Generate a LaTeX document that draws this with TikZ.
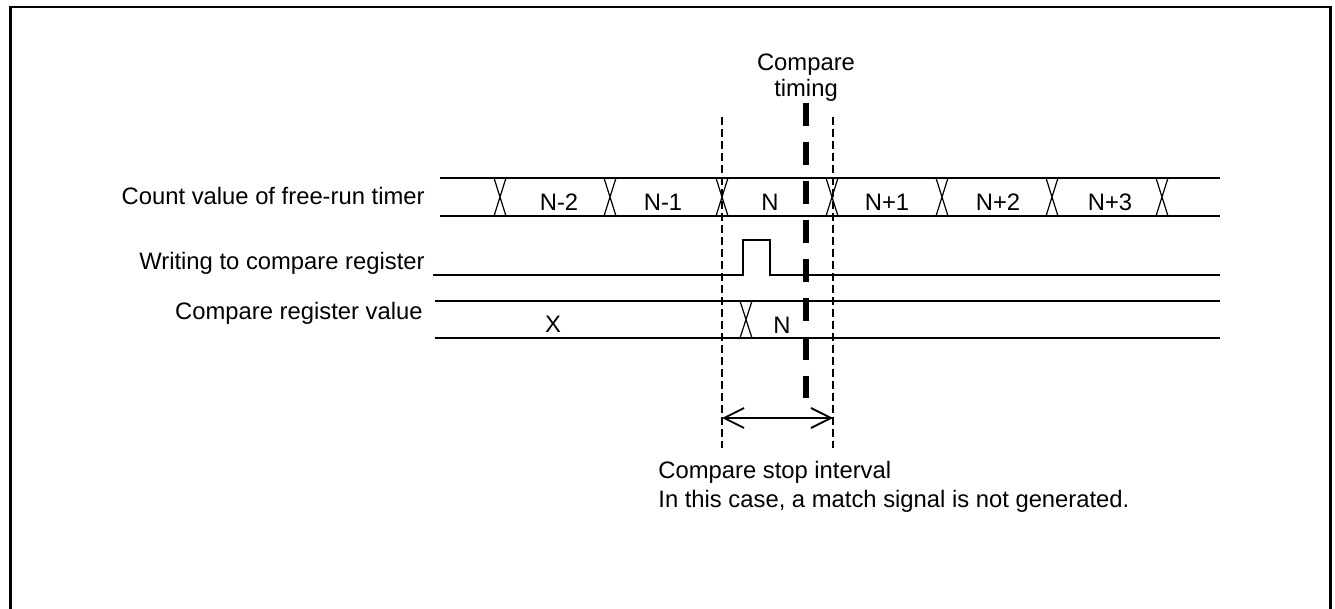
\documentclass[tikz,border=0pt]{standalone}
\usepackage{fontspec}
\setmainfont{Liberation Sans}
\usetikzlibrary{arrows.meta, positioning, calc}

\begin{document}
\begin{tikzpicture}[
    x=0.5pt, y=-0.5pt,
    font=\fontsize{11.9}{14}\selectfont,
    sig/.style={line width=1pt},
    cross/.style={line width=0.6pt},
    guide/.style={line width=0.8pt, dash pattern=on 4pt off 2pt},
    timing/.style={line width=3pt, dash pattern=on 11.5pt off 8pt},
    lbl/.style={inner sep=0pt, anchor=base east},
    val/.style={inner sep=0pt, anchor=base},
    span/.style={line width=0.9pt, {Straight Barb[length=10pt,width=10pt]}-{Straight Barb[length=10pt,width=10pt]}},
]
\useasboundingbox (0,0) rectangle (1335,609);

% frame, open at the bottom
\draw[line width=1.3pt] (10.5,615) -- (10.5,7) -- (1330.5,7) -- (1330.5,615);

% row labels
\node[lbl] (cnt) at (425,205) {Count value of free-run timer};
\node[lbl] (wr)  at (425,270) {Writing to compare register};
\node[lbl] (reg) at (423,320) {Compare register value};

% free-run timer bus
\draw[sig] (440,178) -- (1220,178) (440,216) -- (1220,216);
\foreach \x in {500,610,722,832,942,1052,1162}
    \draw[cross] (\x-6,178) -- (\x+6,216) (\x+6,178) -- (\x-6,216);
\foreach \x/\t [count=\i] in {559/N-2, 663/N-1, 770/N, 887/N+1, 998/N+2, 1110/N+3}
    \node[val] (v\i) at (\x,211) {\t};

% write pulse
\draw[sig] (433,275) -- (743,275) -- (743,240) -- (770,240) -- (770,275) -- (1220,275);

% compare register bus
\draw[sig] (435,301) -- (1220,301) (435,338) -- (1220,338);
\draw[cross] (740,301) -- (752,338) (752,301) -- (740,338);
\node[val] (rx) at (553,333) {X};
\node[val] (rn) at (782,334) {N};

% compare stop interval
\coordinate (ws) at (722,117);
\coordinate (we) at (833,117);
\draw[guide] (ws) -- (722,448);
\draw[guide] (we) -- (833,448);
\coordinate (wsa) at (722,418);
\coordinate (wea) at (833,418);
\draw[span] (wsa) -- (wea);

% compare timing
\node[inner sep=0pt, align=center, anchor=base, font=\fontsize{11.9}{13}\selectfont] (ct) at (806,97) {Compare\\timing};
\draw[timing] (806,103) -- (806,398);

\node[inner sep=0pt, align=left, anchor=base west, font=\fontsize{11.9}{14.5}\selectfont] (note) at (658,508)
    {Compare stop interval\\In this case, a match signal is not generated.};
\end{tikzpicture}
\end{document}
